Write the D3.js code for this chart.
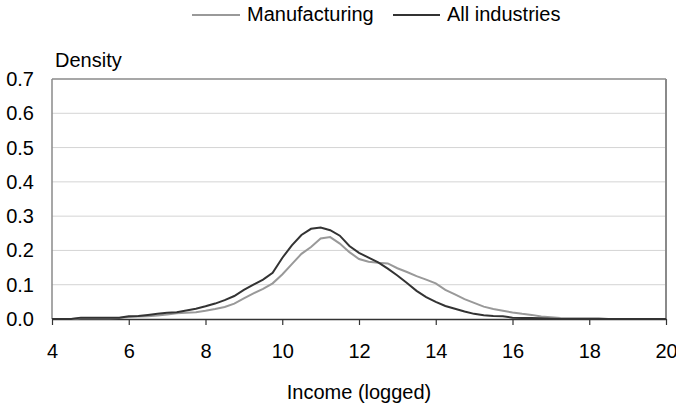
<!DOCTYPE html>
<html><head><meta charset="utf-8">
<script src="https://cdn.jsdelivr.net/npm/d3@7"></script>
<style>body{margin:0;background:#fff}svg{display:block}text{font-family:"Liberation Sans",Arial,sans-serif;fill:#000}</style>
</head><body><svg id="c" width="676" height="406"></svg>
<script>
const incomeX = [4,4.25,4.5,4.75,5,5.25,5.5,5.75,6,6.25,6.5,6.75,7,7.25,7.5,7.75,8,8.25,8.5,8.75,9,9.25,9.5,9.75,10,10.25,10.5,10.75,11,11.25,11.5,11.75,12,12.25,12.5,12.75,13,13.25,13.5,13.75,14,14.25,14.5,14.75,15,15.25,15.5,15.75,16,16.25,16.5,16.75,17,17.25,17.5,17.75,18,18.25,18.5,18.75,19,19.25,19.5,19.75,20];
const allIndustries = [0,0,0,0.004,0.004,0.004,0.004,0.004,0.008,0.009,0.012,0.015,0.018,0.02,0.025,0.03,0.037,0.045,0.055,0.067,0.085,0.1,0.115,0.135,0.178,0.215,0.245,0.263,0.267,0.259,0.243,0.213,0.193,0.179,0.165,0.147,0.127,0.105,0.082,0.064,0.05,0.038,0.03,0.022,0.015,0.011,0.009,0.008,0.004,0.003,0.003,0.002,0.001,0,0,0,0,0,0,0,0,0,0,0,0];
const manufacturing = [0,0,0,0.002,0.002,0.002,0.002,0.003,0.006,0.007,0.008,0.01,0.013,0.017,0.018,0.02,0.024,0.029,0.035,0.045,0.06,0.075,0.088,0.104,0.13,0.16,0.19,0.21,0.235,0.239,0.22,0.195,0.175,0.167,0.164,0.162,0.148,0.137,0.125,0.115,0.104,0.085,0.072,0.058,0.047,0.036,0.029,0.024,0.019,0.015,0.012,0.007,0.005,0.003,0.002,0.002,0.002,0.002,0,0,0,0,0,0,0];
const xTicks = [4,6,8,10,12,14,16,18,20];
const yTicks = [0,0.1,0.2,0.3,0.4,0.5,0.6,0.7];
const seriesNames = ["Manufacturing","All industries"];
const seriesColors = ["#999999","#333333"];

const svg = d3.select("#c");
const L=52,R=666,T=79,B=319;
const FS=20;
const x = d3.scaleLinear().domain([4,20]).range([L,R]);
const y = d3.scaleLinear().domain([0,0.7]).range([B,T]);

// gridlines
svg.append("g").selectAll("line").data(yTicks.filter(d=>d>0&&d<0.7)).join("line")
  .attr("x1",L).attr("x2",R).attr("y1",d=>y(d)).attr("y2",d=>y(d))
  .attr("stroke","#d4d4d4").attr("stroke-width",1);
// frame
svg.append("line").attr("x1",L).attr("x2",R).attr("y1",T).attr("y2",T).attr("stroke","#8a8a8a").attr("stroke-width",1.5);
svg.append("line").attr("x1",R).attr("x2",R).attr("y1",T).attr("y2",B).attr("stroke","#8a8a8a").attr("stroke-width",2);
svg.append("line").attr("x1",L).attr("x2",L).attr("y1",T).attr("y2",B).attr("stroke","#8a8a8a").attr("stroke-width",1.5);

// y labels
svg.append("g").selectAll("text").data(yTicks).join("text")
  .attr("x",34).attr("y",d=>y(d)+7).attr("text-anchor","end")
  .attr("font-size",FS).text(d=>d3.format(".1f")(d));

// x axis
const xa = svg.append("g").attr("transform",`translate(0,${B})`)
  .call(d3.axisBottom(x).tickValues(xTicks).tickSize(6).tickSizeOuter(0).tickFormat(d3.format("d")));
xa.select(".domain").attr("stroke","#333").attr("stroke-width",1.5);
xa.selectAll(".tick line").attr("stroke","#333").attr("stroke-width",1.2);
xa.selectAll(".tick text").attr("font-size",FS).attr("y",39).attr("dy",0)
  .attr("font-family","'Liberation Sans',Arial,sans-serif").attr("fill","#000");

// lines
const line = d3.line().x((d,i)=>x(incomeX[i])).y(d=>y(d));
svg.append("path").datum(manufacturing).attr("d",line).attr("fill","none")
  .attr("stroke",seriesColors[0]).attr("stroke-width",2);
svg.append("path").datum(allIndustries).attr("d",line).attr("fill","none")
  .attr("stroke",seriesColors[1]).attr("stroke-width",2);

// titles
svg.append("text").attr("x",55).attr("y",66.5).attr("font-size",FS).text("Density");
svg.append("text").attr("x",(L+R)/2).attr("y",399).attr("text-anchor","middle").attr("font-size",FS).text("Income (logged)");

// legend
const leg = [{x1:192,x2:240,tx:247},{x1:393,x2:440,tx:447}];
leg.forEach((l,i)=>{
  svg.append("line").attr("x1",l.x1).attr("x2",l.x2).attr("y1",15).attr("y2",15)
    .attr("stroke",seriesColors[i]).attr("stroke-width",2);
  svg.append("text").attr("x",l.tx).attr("y",20.5).attr("font-size",FS).text(seriesNames[i]);
});
</script></body></html>
